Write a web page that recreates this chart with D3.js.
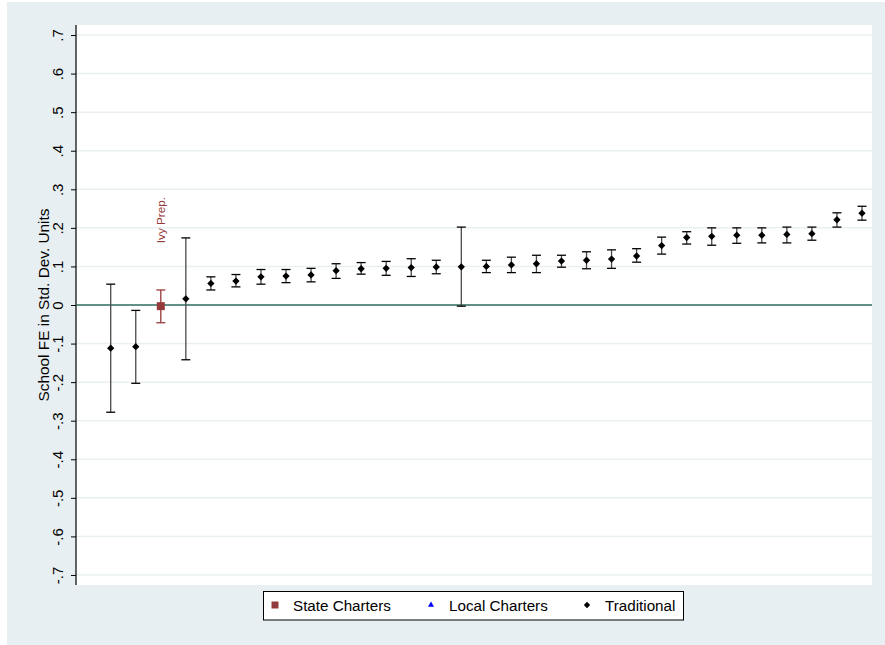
<!DOCTYPE html>
<html lang="en">
<head>
<meta charset="UTF-8">
<title>School FE</title>
<script src="https://d3js.org/d3.v7.min.js"></script>
<style>
  body { margin: 0; background: #fff; }
  svg text { font-family: "Liberation Sans", Arial, sans-serif; }
</style>
</head>
<body>
<svg id="chart"></svg>
<script>
// school estimates, sorted (rank 1..31)
var est = [-0.112, -0.108, -0.003, 0.016, 0.056, 0.062, 0.073, 0.075, 0.078, 0.089, 0.094, 0.095, 0.097, 0.0985, 0.099,
           0.100, 0.104, 0.107, 0.114, 0.116, 0.119, 0.127, 0.154, 0.175, 0.178, 0.181, 0.181, 0.183, 0.185, 0.221, 0.238];
var lo  = [-0.278, -0.203, -0.046, -0.142, 0.039, 0.047, 0.054, 0.058, 0.060, 0.069, 0.080, 0.077, 0.074, 0.081, -0.003,
           0.084, 0.084, 0.084, 0.098, 0.094, 0.095, 0.111, 0.132, 0.158, 0.155, 0.160, 0.161, 0.161, 0.168, 0.202, 0.220];
var hi  = [0.054, -0.014, 0.039, 0.174, 0.073, 0.079, 0.092, 0.092, 0.095, 0.107, 0.110, 0.113, 0.120, 0.116, 0.202,
           0.116, 0.124, 0.129, 0.129, 0.138, 0.143, 0.146, 0.176, 0.190, 0.200, 0.200, 0.200, 0.202, 0.202, 0.239, 0.256];
var group = est.map(function (d, i) { return i === 2 ? "state" : "trad"; });
var labels = est.map(function (d, i) { return i === 2 ? "Ivy Prep." : ""; });
var yTicks = [0.7, 0.6, 0.5, 0.4, 0.3, 0.2, 0.1, 0, -0.1, -0.2, -0.3, -0.4, -0.5, -0.6, -0.7];
var legendItems = ["State Charters", "Local Charters", "Traditional"];

var W = 885, H = 645;
var svg = d3.select("#chart").attr("width", W).attr("height", H);

// outer background
svg.append("rect").attr("x", 7).attr("y", 2).attr("width", W - 7).attr("height", H - 2).attr("fill", "#e8eff2");

var plot = { left: 76, top: 25, right: 872, bottom: 585 };
svg.append("rect")
    .attr("x", plot.left).attr("y", plot.top)
    .attr("width", plot.right - plot.left).attr("height", plot.bottom - plot.top)
    .attr("fill", "#fff");

var x = d3.scaleLinear().domain([-0.386, 31.4]).range([plot.left, plot.right]);
var y = d3.scaleLinear().domain([-0.726, 0.726]).range([plot.bottom, plot.top]);

// gridlines
svg.append("g").selectAll("line").data(yTicks.filter(function (t) { return t !== 0; })).enter().append("line")
    .attr("x1", plot.left).attr("x2", plot.right)
    .attr("y1", function (d) { return y(d); }).attr("y2", function (d) { return y(d); })
    .attr("stroke", "#eaf0f2").attr("stroke-width", 1.5);

// y axis
var yAxis = d3.axisLeft(y).tickValues(yTicks).tickSize(5)
    .tickFormat(function (d) {
        if (d === 0) return "0";
        var s = d3.format(".1f")(Math.abs(d)).replace(/^0/, "");
        return (d < 0 ? "-" : "") + s;
    });
var ya = svg.append("g").attr("transform", "translate(" + plot.left + ",0)").call(yAxis);
ya.select(".domain").attr("d", "M0," + plot.top + "V" + plot.bottom).attr("stroke", "#000").attr("stroke-width", 1.2);
ya.selectAll(".tick line").attr("stroke", "#000");
ya.selectAll(".tick text")
    .attr("font-size", 15).attr("fill", "#000")
    .attr("text-anchor", "middle")
    .attr("x", 0).attr("y", 0).attr("dy", 0)
    .attr("transform", "translate(-13,0) rotate(-90)");

// axis title
svg.append("text")
    .attr("transform", "translate(49," + y(0) + ") rotate(-90)")
    .attr("text-anchor", "middle").attr("font-size", 15.4).attr("fill", "#000")
    .text("School FE in Std. Dev. Units");

// zero line
svg.append("line")
    .attr("x1", plot.left).attr("x2", plot.right).attr("y1", y(0)).attr("y2", y(0))
    .attr("stroke", "#2f6b5e").attr("stroke-width", 1.4);

var idx = d3.range(est.length);
var color = function (i) { return group[i] === "state" ? "#943a3a" : "#000"; };
var barColor = function (i) { return group[i] === "state" ? "#943a3a" : "#4a4a4a"; };

// error bars
var eb = svg.append("g");
eb.selectAll(".stem").data(idx).enter().append("line")
    .attr("x1", function (i) { return x(i + 1); }).attr("x2", function (i) { return x(i + 1); })
    .attr("y1", function (i) { return y(lo[i]); }).attr("y2", function (i) { return y(hi[i]); })
    .attr("stroke", barColor).attr("stroke-width", 1.3);
["lo", "hi"].forEach(function (k) {
    var arr = k === "lo" ? lo : hi;
    eb.selectAll(".cap" + k).data(idx).enter().append("line")
        .attr("x1", function (i) { return x(i + 1) - 4.5; }).attr("x2", function (i) { return x(i + 1) + 4.5; })
        .attr("y1", function (i) { return y(arr[i]); }).attr("y2", function (i) { return y(arr[i]); })
        .attr("stroke", function (i) { return color(i); }).attr("stroke-width", 1.3);
});

// markers
var diamond = d3.symbol().type(d3.symbolDiamond2).size(34);
var square = d3.symbol().type(d3.symbolSquare).size(64);
svg.append("g").selectAll("path").data(idx).enter().append("path")
    .attr("transform", function (i) { return "translate(" + x(i + 1) + "," + y(est[i]) + ")"; })
    .attr("d", function (i) { return group[i] === "state" ? square() : diamond(); })
    .attr("fill", color);

// marker labels
svg.append("g").selectAll("text").data(idx.filter(function (i) { return labels[i]; })).enter().append("text")
    .attr("transform", function (i) { return "translate(" + (x(i + 1) + 4) + "," + (y(est[i]) - 63) + ") rotate(-90)"; })
    .attr("font-size", 11.7).attr("fill", "#943a3a")
    .text(function (i) { return labels[i]; });

// legend
var lg = svg.append("g");
lg.append("rect").attr("x", 263.5).attr("y", 591.5).attr("width", 420).attr("height", 28.5)
    .attr("fill", "#fff").attr("stroke", "#000").attr("stroke-width", 1);
var legX = [275, 431, 587];
var legSym = [
    d3.symbol().type(d3.symbolSquare).size(49)(),
    d3.symbol().type(d3.symbolTriangle).size(16)(),
    d3.symbol().type(d3.symbolDiamond2).size(26)()
];
var legCol = ["#943a3a", "#0000ff", "#000"];
legendItems.forEach(function (t, i) {
    lg.append("path").attr("d", legSym[i]).attr("fill", legCol[i])
        .attr("transform", "translate(" + legX[i] + ",605)");
    lg.append("text").attr("x", legX[i] + 18).attr("y", 611).attr("font-size", 15.2).attr("fill", "#000").text(t);
});
</script>
</body>
</html>
